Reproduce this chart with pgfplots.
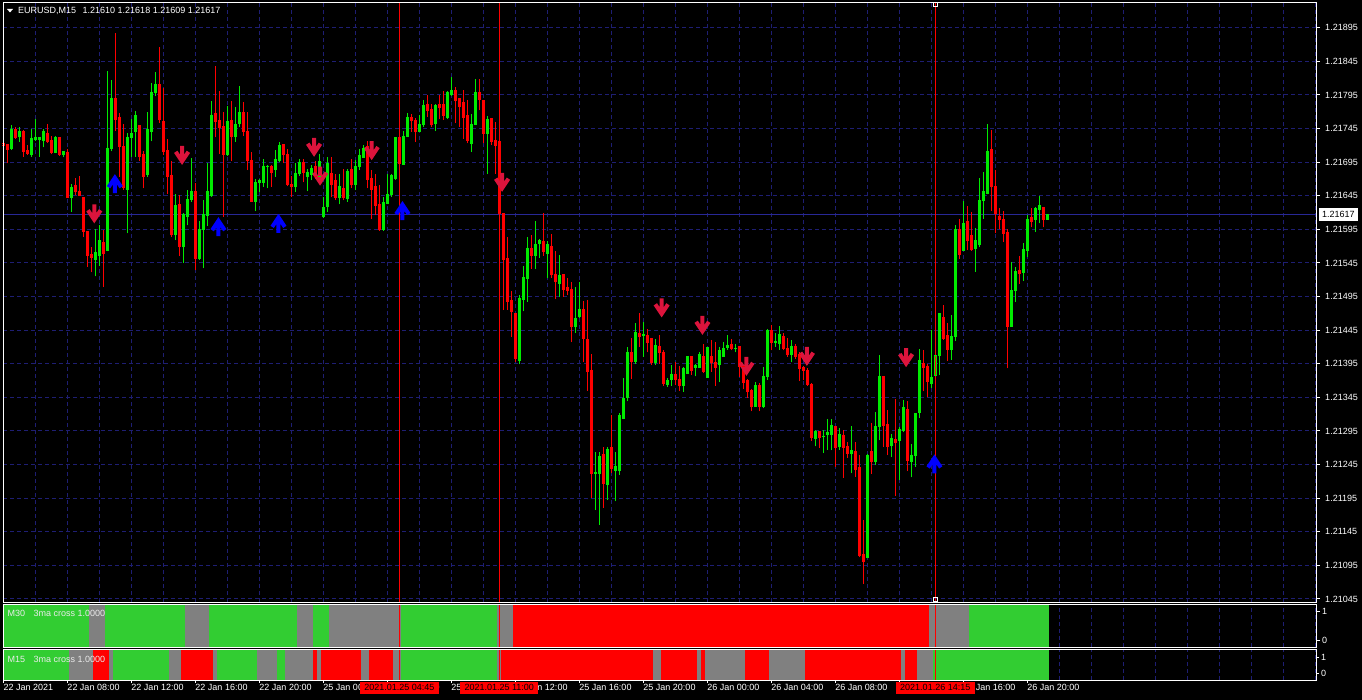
\documentclass[border=0pt]{standalone}
\usepackage{pgfplots}
\pgfplotsset{compat=1.18}
\usepackage{pgfplotstable}
\usepackage{fontspec}
\setmainfont{Liberation Sans}
\definecolor{gridc}{RGB}{30,30,115}
\definecolor{bidc}{RGB}{40,40,150}
\definecolor{bullc}{RGB}{0,235,0}
\definecolor{bearc}{RGB}{255,0,0}
\definecolor{fG}{RGB}{50,205,50}
\definecolor{fY}{RGB}{128,128,128}
\definecolor{fR}{RGB}{255,0,0}
\definecolor{dnc}{RGB}{220,20,60}
\definecolor{upc}{RGB}{0,0,255}
\definecolor{lblc}{RGB}{235,235,235}
\newcommand\lbl{\fontsize{9}{10}\selectfont}

\pgfdeclareplotmark{dnarrow}{%
  \pgfpathmoveto{\pgfqpoint{-2pt}{9.5pt}}%
  \pgfpathlineto{\pgfqpoint{2pt}{9.5pt}}%
  \pgfpathlineto{\pgfqpoint{2pt}{0.7pt}}%
  \pgfpathlineto{\pgfqpoint{4.67pt}{4.72pt}}%
  \pgfpathlineto{\pgfqpoint{8pt}{2.5pt}}%
  \pgfpathlineto{\pgfqpoint{0pt}{-9.5pt}}%
  \pgfpathlineto{\pgfqpoint{-8pt}{2.5pt}}%
  \pgfpathlineto{\pgfqpoint{-4.67pt}{4.72pt}}%
  \pgfpathlineto{\pgfqpoint{-2pt}{0.7pt}}%
  \pgfpathclose\pgfusepathqfill}
\pgfdeclareplotmark{uparrow}{%
  \pgfpathmoveto{\pgfqpoint{-2pt}{-9.5pt}}%
  \pgfpathlineto{\pgfqpoint{2pt}{-9.5pt}}%
  \pgfpathlineto{\pgfqpoint{2pt}{-0.7pt}}%
  \pgfpathlineto{\pgfqpoint{4.67pt}{-4.72pt}}%
  \pgfpathlineto{\pgfqpoint{8pt}{-2.5pt}}%
  \pgfpathlineto{\pgfqpoint{0pt}{9.5pt}}%
  \pgfpathlineto{\pgfqpoint{-8pt}{-2.5pt}}%
  \pgfpathlineto{\pgfqpoint{-4.67pt}{-4.72pt}}%
  \pgfpathlineto{\pgfqpoint{-2pt}{-0.7pt}}%
  \pgfpathclose\pgfusepathqfill}

% EURUSD M15 candles, bar 0 = 22 Jan 04:00 ... bar 261 = 26 Jan 21:15
\pgfplotstableread{
o h l c
1.21723 1.21755 1.21693 1.21719
1.21721 1.21722 1.21693 1.21714
1.21715 1.21750 1.21713 1.21744
1.21743 1.21748 1.21730 1.21732
1.21733 1.21748 1.21725 1.21740
1.21740 1.21743 1.21703 1.21711
1.21712 1.21720 1.21706 1.21708
1.21707 1.21745 1.21703 1.21730
1.21729 1.21759 1.21727 1.21731
1.21729 1.21733 1.21703 1.21731
1.21727 1.21744 1.21717 1.21740
1.21737 1.21752 1.21724 1.21726
1.21727 1.21734 1.21707 1.21710
1.21709 1.21734 1.21708 1.21732
1.21732 1.21733 1.21704 1.21707
1.21707 1.21712 1.21702 1.21711
1.21709 1.21714 1.21641 1.21642
1.21642 1.21662 1.21621 1.21657
1.21660 1.21672 1.21646 1.21651
1.21651 1.21674 1.21645 1.21646
1.21642 1.21643 1.21584 1.21592
1.21592 1.21593 1.21539 1.21556
1.21557 1.21569 1.21531 1.21553
1.21550 1.21596 1.21525 1.21561
1.21556 1.21602 1.21541 1.21578
1.21576 1.21594 1.21509 1.21559
1.21563 1.21830 1.21562 1.21716
1.21715 1.21817 1.21711 1.21790
1.21790 1.21887 1.21742 1.21759
1.21761 1.21768 1.21673 1.21718
1.21718 1.21752 1.21654 1.21657
1.21655 1.21738 1.21589 1.21732
1.21732 1.21759 1.21703 1.21738
1.21740 1.21771 1.21703 1.21764
1.21749 1.21750 1.21697 1.21703
1.21706 1.21711 1.21656 1.21673
1.21676 1.21770 1.21673 1.21743
1.21741 1.21812 1.21726 1.21799
1.21798 1.21829 1.21793 1.21811
1.21810 1.21867 1.21753 1.21758
1.21755 1.21806 1.21706 1.21711
1.21712 1.21729 1.21648 1.21673
1.21675 1.21697 1.21584 1.21587
1.21588 1.21648 1.21579 1.21630
1.21632 1.21646 1.21555 1.21569
1.21569 1.21620 1.21545 1.21617
1.21614 1.21654 1.21601 1.21640
1.21639 1.21701 1.21636 1.21652
1.21651 1.21664 1.21534 1.21551
1.21551 1.21608 1.21550 1.21595
1.21595 1.21639 1.21537 1.21617
1.21616 1.21693 1.21600 1.21651
1.21645 1.21786 1.21643 1.21765
1.21768 1.21838 1.21732 1.21755
1.21757 1.21801 1.21707 1.21747
1.21748 1.21769 1.21614 1.21706
1.21706 1.21779 1.21704 1.21756
1.21757 1.21786 1.21697 1.21733
1.21733 1.21777 1.21725 1.21751
1.21752 1.21808 1.21747 1.21769
1.21769 1.21784 1.21734 1.21740
1.21740 1.21769 1.21683 1.21697
1.21697 1.21710 1.21636 1.21637
1.21637 1.21670 1.21622 1.21665
1.21664 1.21670 1.21651 1.21668
1.21664 1.21699 1.21658 1.21689
1.21688 1.21690 1.21656 1.21689
1.21688 1.21690 1.21658 1.21680
1.21684 1.21713 1.21673 1.21699
1.21698 1.21725 1.21695 1.21720
1.21721 1.21722 1.21693 1.21707
1.21707 1.21715 1.21659 1.21662
1.21662 1.21675 1.21643 1.21658
1.21658 1.21693 1.21651 1.21678
1.21678 1.21699 1.21675 1.21695
1.21695 1.21699 1.21665 1.21680
1.21673 1.21685 1.21652 1.21680
1.21677 1.21690 1.21668 1.21686
1.21688 1.21697 1.21670 1.21673
1.21673 1.21707 1.21670 1.21696
1.21614 1.21643 1.21612 1.21627
1.21629 1.21702 1.21621 1.21693
1.21678 1.21702 1.21643 1.21662
1.21668 1.21678 1.21639 1.21643
1.21643 1.21678 1.21632 1.21659
1.21656 1.21685 1.21638 1.21642
1.21641 1.21685 1.21636 1.21681
1.21684 1.21699 1.21656 1.21661
1.21661 1.21698 1.21653 1.21688
1.21688 1.21715 1.21683 1.21705
1.21702 1.21720 1.21701 1.21716
1.21718 1.21726 1.21656 1.21669
1.21671 1.21683 1.21611 1.21655
1.21658 1.21678 1.21616 1.21630
1.21632 1.21661 1.21593 1.21595
1.21594 1.21643 1.21593 1.21635
1.21634 1.21678 1.21633 1.21647
1.21647 1.21678 1.21643 1.21675
1.21670 1.21732 1.21669 1.21731
1.21731 1.21733 1.21690 1.21693
1.21692 1.21741 1.21691 1.21733
1.21733 1.21768 1.21732 1.21762
1.21762 1.21767 1.21740 1.21757
1.21757 1.21760 1.21725 1.21741
1.21741 1.21765 1.21740 1.21751
1.21751 1.21787 1.21747 1.21779
1.21781 1.21795 1.21762 1.21772
1.21774 1.21782 1.21747 1.21751
1.21752 1.21782 1.21741 1.21779
1.21781 1.21795 1.21759 1.21777
1.21781 1.21801 1.21758 1.21764
1.21762 1.21801 1.21759 1.21799
1.21795 1.21822 1.21794 1.21802
1.21801 1.21807 1.21753 1.21787
1.21789 1.21790 1.21747 1.21778
1.21784 1.21802 1.21730 1.21762
1.21764 1.21787 1.21723 1.21727
1.21723 1.21766 1.21710 1.21751
1.21751 1.21819 1.21750 1.21798
1.21798 1.21819 1.21772 1.21788
1.21787 1.21788 1.21723 1.21737
1.21737 1.21763 1.21677 1.21758
1.21760 1.21761 1.21720 1.21725
1.21727 1.21755 1.21678 1.21720
1.21725 1.21727 1.21617 1.21618
1.21618 1.21619 1.21475 1.21550
1.21551 1.21583 1.21475 1.21488
1.21489 1.21503 1.21435 1.21472
1.21470 1.21471 1.21398 1.21403
1.21400 1.21497 1.21394 1.21492
1.21490 1.21540 1.21473 1.21523
1.21522 1.21584 1.21487 1.21566
1.21566 1.21587 1.21536 1.21556
1.21556 1.21607 1.21536 1.21573
1.21574 1.21581 1.21553 1.21578
1.21577 1.21619 1.21555 1.21562
1.21559 1.21578 1.21522 1.21572
1.21570 1.21588 1.21523 1.21528
1.21528 1.21562 1.21491 1.21518
1.21515 1.21557 1.21494 1.21526
1.21528 1.21529 1.21495 1.21505
1.21508 1.21523 1.21497 1.21504
1.21505 1.21517 1.21427 1.21451
1.21451 1.21509 1.21441 1.21462
1.21466 1.21517 1.21463 1.21476
1.21476 1.21489 1.21398 1.21432
1.21431 1.21490 1.21355 1.21383
1.21385 1.21409 1.21195 1.21231
1.21232 1.21264 1.21177 1.21233
1.21232 1.21263 1.21155 1.21257
1.21260 1.21271 1.21181 1.21217
1.21216 1.21271 1.21192 1.21267
1.21270 1.21318 1.21233 1.21239
1.21236 1.21263 1.21190 1.21242
1.21236 1.21322 1.21230 1.21318
1.21314 1.21374 1.21312 1.21343
1.21344 1.21420 1.21339 1.21411
1.21411 1.21433 1.21373 1.21399
1.21399 1.21456 1.21395 1.21442
1.21440 1.21470 1.21420 1.21435
1.21437 1.21457 1.21405 1.21438
1.21437 1.21446 1.21412 1.21427
1.21433 1.21434 1.21393 1.21397
1.21397 1.21432 1.21393 1.21422
1.21420 1.21437 1.21395 1.21411
1.21412 1.21415 1.21362 1.21366
1.21364 1.21374 1.21361 1.21370
1.21371 1.21393 1.21362 1.21379
1.21379 1.21397 1.21363 1.21371
1.21371 1.21391 1.21355 1.21363
1.21362 1.21390 1.21353 1.21388
1.21381 1.21407 1.21380 1.21406
1.21406 1.21407 1.21378 1.21385
1.21390 1.21395 1.21376 1.21392
1.21390 1.21413 1.21389 1.21408
1.21406 1.21425 1.21381 1.21384
1.21375 1.21420 1.21374 1.21419
1.21405 1.21430 1.21383 1.21397
1.21397 1.21428 1.21362 1.21389
1.21394 1.21420 1.21368 1.21415
1.21406 1.21427 1.21405 1.21417
1.21419 1.21437 1.21416 1.21422
1.21424 1.21432 1.21415 1.21417
1.21417 1.21425 1.21412 1.21418
1.21420 1.21421 1.21375 1.21391
1.21391 1.21393 1.21357 1.21367
1.21370 1.21373 1.21344 1.21353
1.21355 1.21358 1.21324 1.21332
1.21332 1.21368 1.21331 1.21363
1.21363 1.21367 1.21324 1.21332
1.21332 1.21390 1.21329 1.21376
1.21376 1.21446 1.21371 1.21445
1.21445 1.21453 1.21415 1.21427
1.21427 1.21440 1.21420 1.21428
1.21425 1.21451 1.21416 1.21439
1.21435 1.21440 1.21415 1.21417
1.21417 1.21434 1.21405 1.21408
1.21408 1.21430 1.21397 1.21420
1.21420 1.21424 1.21402 1.21405
1.21409 1.21412 1.21369 1.21388
1.21390 1.21391 1.21371 1.21385
1.21385 1.21388 1.21362 1.21364
1.21364 1.21366 1.21280 1.21285
1.21284 1.21297 1.21272 1.21294
1.21294 1.21295 1.21270 1.21285
1.21286 1.21296 1.21262 1.21287
1.21289 1.21312 1.21267 1.21292
1.21289 1.21312 1.21266 1.21303
1.21301 1.21302 1.21242 1.21271
1.21272 1.21300 1.21267 1.21290
1.21288 1.21296 1.21225 1.21271
1.21272 1.21279 1.21255 1.21261
1.21261 1.21303 1.21232 1.21266
1.21265 1.21279 1.21227 1.21237
1.21240 1.21259 1.21107 1.21109
1.21111 1.21162 1.21067 1.21101
1.21107 1.21260 1.21106 1.21259
1.21264 1.21307 1.21231 1.21250
1.21249 1.21323 1.21245 1.21302
1.21301 1.21408 1.21281 1.21376
1.21376 1.21377 1.21271 1.21303
1.21305 1.21326 1.21259 1.21272
1.21274 1.21290 1.21256 1.21284
1.21282 1.21342 1.21198 1.21278
1.21280 1.21301 1.21222 1.21297
1.21296 1.21341 1.21293 1.21330
1.21327 1.21339 1.21235 1.21251
1.21250 1.21275 1.21226 1.21259
1.21259 1.21322 1.21242 1.21321
1.21323 1.21417 1.21314 1.21400
1.21395 1.21415 1.21354 1.21389
1.21391 1.21395 1.21345 1.21368
1.21366 1.21445 1.21359 1.21374
1.21377 1.21449 1.21353 1.21407
1.21407 1.21471 1.21378 1.21470
1.21464 1.21482 1.21431 1.21432
1.21437 1.21455 1.21399 1.21416
1.21416 1.21467 1.21401 1.21436
1.21436 1.21601 1.21429 1.21595
1.21595 1.21611 1.21551 1.21558
1.21564 1.21637 1.21563 1.21604
1.21607 1.21629 1.21564 1.21579
1.21586 1.21621 1.21563 1.21565
1.21567 1.21597 1.21532 1.21579
1.21573 1.21671 1.21568 1.21638
1.21638 1.21680 1.21611 1.21651
1.21649 1.21751 1.21647 1.21711
1.21714 1.21743 1.21623 1.21659
1.21659 1.21683 1.21589 1.21619
1.21614 1.21627 1.21595 1.21609
1.21610 1.21623 1.21576 1.21589
1.21590 1.21596 1.21388 1.21451
1.21451 1.21546 1.21450 1.21504
1.21504 1.21539 1.21487 1.21532
1.21533 1.21555 1.21514 1.21529
1.21530 1.21575 1.21518 1.21565
1.21564 1.21617 1.21554 1.21610
1.21612 1.21627 1.21598 1.21607
1.21609 1.21628 1.21591 1.21626
1.21625 1.21644 1.21604 1.21630
1.21627 1.21628 1.21598 1.21610
1.21610 1.21618 1.21609 1.21617
}\candles

\newcommand\segA[3]{\addplot[fill=#1,draw=none] coordinates {(#2,-0.2414) (#2,1.2414) (#3,1.2414) (#3,-0.2414)};}
\newcommand\segB[3]{\addplot[fill=#1,draw=none] coordinates {(#2,-0.4375) (#2,1.5) (#3,1.5) (#3,-0.4375)};}

\pgfplotsset{
  chartax/.style={scale only axis, width=1313pt, xmin=-0.075, xmax=328.2,
    axis line style={draw=white, line width=1pt},
    tick align=outside, major tick length=4pt,
    ytick pos=right, yticklabel pos=right,
    ytick style={draw=white, line width=1pt},
    yticklabel style={text=white, font=\lbl, anchor=west, inner sep=0pt, xshift=5pt},
    major grid style={draw=gridc, line width=1pt, dash pattern=on 4pt off 3pt},
    minor grid style={draw=gridc, line width=1pt, dash pattern=on 4pt off 3pt},
  }
}

\begin{document}
\begin{tikzpicture}
\def\bullW{}\def\bearW{}\def\bullB{}\def\bearB{}
\pgfplotsforeachungrouped \ri in {0,...,261}{%
  \pgfplotstablegetelem{\ri}{o}\of\candles\let\vo\pgfplotsretval
  \pgfplotstablegetelem{\ri}{h}\of\candles\let\vh\pgfplotsretval
  \pgfplotstablegetelem{\ri}{l}\of\candles\let\vl\pgfplotsretval
  \pgfplotstablegetelem{\ri}{c}\of\candles\let\vc\pgfplotsretval
  \ifnum\fpeval{\vc<\vo}=1
    \edef\bearW{\bearW (\ri,\vl) (\ri,\vh) (\ri,nan)}%
    \edef\bearB{\bearB (\ri,\vo) (\ri,\vc) (\ri,nan)}%
  \else
    \edef\bullW{\bullW (\ri,\vl) (\ri,\vh) (\ri,nan)}%
    \edef\bullB{\bullB (\ri,\vo) (\ri,\vc) (\ri,nan)}%
  \fi
}
\useasboundingbox (0pt,0pt) rectangle (1362pt,-700pt);
\fill[black] (0pt,0pt) rectangle (1362pt,-700pt);

% ---------- main price panel ----------
\begin{axis}[chartax, name=mainax, at={(3pt,-3pt)}, anchor=north west, height=599pt,
  ymin=1.210404, ymax=1.219318,
  xtick={8,16,...,328}, xticklabel={}, xtick style={draw=none},
  ytick={1.21045,1.21095,1.21145,1.21195,1.21245,1.21295,1.21345,1.21395,1.21445,1.21495,1.21545,1.21595,1.21645,1.21695,1.21745,1.21795,1.21845,1.21895},
  yticklabels={1.21045,1.21095,1.21145,1.21195,1.21245,1.21295,1.21345,1.21395,1.21445,1.21495,1.21545,1.21595,1.21645,1.21695,1.21745,1.21795,1.21845,1.21895},
  xmajorgrids, ymajorgrids]
\addplot[bidc, line width=1pt] coordinates {(-1,1.21617) (330,1.21617)};
\addplot[only marks, mark=dnarrow, dnc] coordinates {(22.75,1.21618) (44.7,1.21705) (77.7,1.21717) (79.2,1.21674) (92.1,1.21712) (124.7,1.21665) (164.6,1.21478) (174.8,1.21452) (185.8,1.21391) (200.9,1.21406) (225.7,1.21404)};
\addplot[only marks, mark=uparrow, upc] coordinates {(27.9,1.21663) (53.8,1.21599) (68.8,1.21604) (99.8,1.21623) (232.8,1.21246)};
\edef\tmp{\noexpand\addplot[bullc, line width=1pt, unbounded coords=jump] coordinates {\bullW};}\tmp
\edef\tmp{\noexpand\addplot[bearc, line width=1pt, unbounded coords=jump] coordinates {\bearW};}\tmp
\edef\tmp{\noexpand\addplot[bullc, line width=3pt, unbounded coords=jump, mark=-, mark size=1.5pt, mark options={solid, line width=1pt}] coordinates {\bullB};}\tmp
\edef\tmp{\noexpand\addplot[bearc, line width=3pt, unbounded coords=jump, mark=-, mark size=1.5pt, mark options={solid, line width=1pt}] coordinates {\bearB};}\tmp
\addplot[fR, line width=1pt] coordinates {(99,1.2100) (99,1.2200)};
\addplot[fR, line width=1pt] coordinates {(124,1.2100) (124,1.2200)};
\addplot[fR, line width=1pt] coordinates {(233,1.2100) (233,1.2200)};
\addplot[only marks, mark=square, mark size=2pt, white, mark options={line width=1pt}] coordinates {(233,1.21929) (233,1.21044)};
\end{axis}

% ---------- M30 panel ----------
\begin{axis}[chartax, name=m30ax, at={(3pt,-604pt)}, anchor=north west, height=43pt,
  ymin=-0.2414, ymax=1.2414,
  xtick={8,16,...,328}, xticklabel={}, xtick style={draw=none},
  ytick={0,1}, yticklabels={0,1}, yticklabel style={xshift=-3pt}, xmajorgrids]
\segA{fG}{-0.5}{21.5}
\segA{fY}{21.5}{25.5}
\segA{fG}{25.5}{45.5}
\segA{fY}{45.5}{51.5}
\segA{fG}{51.5}{73.5}
\segA{fY}{73.5}{77.5}
\segA{fG}{77.5}{81.5}
\segA{fY}{81.5}{99.5}
\segA{fG}{99.5}{123.5}
\segA{fY}{123.5}{127.5}
\segA{fR}{127.5}{231.5}
\segA{fY}{231.5}{241.5}
\segA{fG}{241.5}{261.5}
\addplot[fR, line width=1pt] coordinates {(99,-1) (99,2)};
\addplot[fR, line width=1pt] coordinates {(124,-1) (124,2)};
\addplot[fR, line width=1pt] coordinates {(233,-1) (233,2)};
\end{axis}

% ---------- M15 panel ----------
\begin{axis}[chartax, name=m15ax, at={(3pt,-649pt)}, anchor=north west, height=31pt,
  ymin=-0.4375, ymax=1.5,
  xtick={0,16,...,256}, xtick pos=left,
  xticklabels={22 Jan 2021,22 Jan 08:00,22 Jan 12:00,22 Jan 16:00,22 Jan 20:00,25 Jan 00:00,25 Jan 04:00,25 Jan 08:00,25 Jan 12:00,25 Jan 16:00,25 Jan 20:00,26 Jan 00:00,26 Jan 04:00,26 Jan 08:00,26 Jan 12:00,26 Jan 16:00,26 Jan 20:00},
  xticklabel style={text=white, font=\lbl, anchor=north west, inner sep=0pt, yshift=-1pt},
  xtick style={draw=white, line width=1pt}, major tick length=3pt,
  minor xtick={8,16,...,328}, minor tick length=0pt, xminorgrids,
  ytick={0,1}, yticklabels={0,1}, yticklabel style={xshift=-3pt}]
\segB{fG}{-0.5}{16.5}
\segB{fY}{16.5}{22.5}
\segB{fR}{22.5}{26.5}
\segB{fY}{26.5}{27.5}
\segB{fG}{27.5}{41.5}
\segB{fY}{41.5}{44.5}
\segB{fR}{44.5}{52.5}
\segB{fY}{52.5}{53.5}
\segB{fG}{53.5}{63.5}
\segB{fY}{63.5}{68.5}
\segB{fG}{68.5}{70.5}
\segB{fY}{70.5}{77.5}
\segB{fR}{77.5}{78.5}
\segB{fY}{78.5}{79.5}
\segB{fR}{79.5}{89.5}
\segB{fY}{89.5}{91.5}
\segB{fR}{91.5}{97.5}
\segB{fY}{97.5}{99.5}
\segB{fG}{99.5}{123.5}
\segB{fY}{123.5}{124.5}
\segB{fR}{124.5}{162.5}
\segB{fY}{162.5}{164.5}
\segB{fR}{164.5}{173.5}
\segB{fY}{173.5}{174.5}
\segB{fR}{174.5}{175.5}
\segB{fY}{175.5}{185.5}
\segB{fR}{185.5}{191.5}
\segB{fY}{191.5}{200.5}
\segB{fR}{200.5}{224.5}
\segB{fY}{224.5}{225.5}
\segB{fR}{225.5}{228.5}
\segB{fY}{228.5}{232.5}
\segB{fG}{232.5}{261.5}
\addplot[fR, line width=1pt] coordinates {(99,-1) (99,2)};
\addplot[fR, line width=1pt] coordinates {(124,-1) (124,2)};
\addplot[fR, line width=1pt] coordinates {(233,-1) (233,2)};
\coordinate (B1) at (axis cs:99,-0.4375);
\coordinate (B2) at (axis cs:124,-0.4375);
\coordinate (B3) at (axis cs:233,-0.4375);
\end{axis}

% frames
\draw[white, line width=1pt] (mainax.south west) rectangle (mainax.north east);
\draw[white, line width=1pt] (m30ax.south west) rectangle (m30ax.north east);
\draw[white, line width=1pt] (m15ax.south west) rectangle (m15ax.north east);

% highlighted time labels
\foreach \b/\t in {B1/2021.01.25 04:45, B2/2021.01.25 11:00, B3/2021.01.26 14:15}
  \node[fill=fR, text=black, font=\lbl, inner xsep=4.5pt, inner ysep=3pt, anchor=north] at ([yshift=-1.5pt]\b) {\t};

% title and panel captions
\fill[white] (7pt,-9pt) -- (13pt,-9pt) -- (10pt,-12.5pt) -- cycle;
\node[anchor=base west, inner sep=0pt, text=white, font=\lbl] at (18pt,-13.8pt) {EURUSD,M15\hspace{6.5pt}1.21610 1.21618 1.21609 1.21617};
\node[anchor=base west, inner sep=0pt, text=lblc, font=\lbl] at (7.5pt,-616.3pt) {M30\hspace{8.5pt}3ma cross 1.0000};
\node[anchor=base west, inner sep=0pt, text=lblc, font=\lbl] at (7.5pt,-662.3pt) {M15\hspace{8.5pt}3ma cross 1.0000};

% current price box
\node[fill=white, text=black, font=\lbl, anchor=west, inner xsep=3pt, inner ysep=0pt, minimum height=12.5pt] at (1319pt,-214.5pt) {1.21617};
\end{tikzpicture}
\end{document}
